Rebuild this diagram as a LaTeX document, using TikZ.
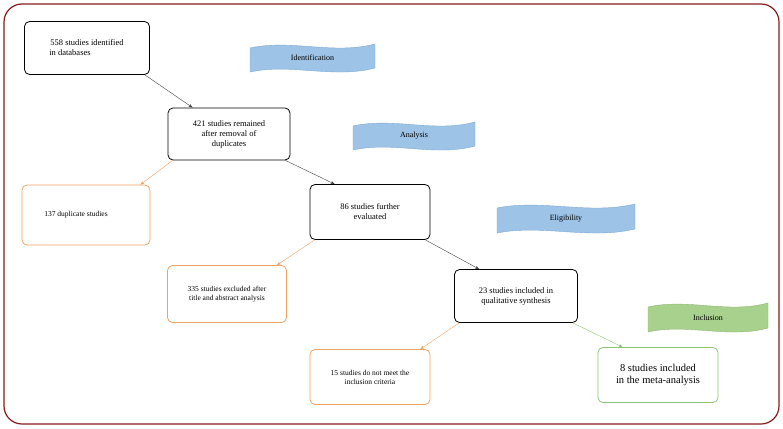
\documentclass[tikz,border=0pt]{standalone}
\usepackage{fontspec}
\setmainfont{Liberation Serif}
\usetikzlibrary{arrows.meta}
\definecolor{frame}{HTML}{8B1A1A}
\definecolor{obox}{HTML}{F0A060}
\definecolor{gbox}{HTML}{8CC474}
\definecolor{bflag}{HTML}{9DC3E6}
\definecolor{bflagd}{HTML}{7FA9D3}
\definecolor{gflag}{HTML}{A9D18E}
\definecolor{gflagd}{HTML}{8DB872}
\tikzset{
 box/.style={draw=black,thick,rounded corners=5pt,align=center,font=\fontsize{8.5}{10}\selectfont,inner sep=2pt},
 obx/.style={box,draw=obox,thick},
 gbx/.style={box,draw=gbox,thick},
 arr/.style={-{Stealth[length=4pt]},draw=black!75},
 oarr/.style={arr,draw=obox},
 garr/.style={arr,draw=gbox},
}
\newcommand{\myflag}[7]{% name x y w h fill draw text
 \fill[#6,draw=#7] (#2,#3+2) .. controls (#2+#4/3,#3-7) and (#2+2*#4/3,#3+9) .. (#2+#4,#3-2)
   -- (#2+#4,#3+#5-2) .. controls (#2+2*#4/3,#3+#5+9) and (#2+#4/3,#3+#5-7) .. (#2,#3+#5+2) -- cycle;
 \node[font=\fontsize{8}{9}\selectfont] (#1) at (#2+#4/2,#3+#5/2) {#1};
}
\begin{document}
\begin{tikzpicture}[x=1pt,y=-1pt]
\useasboundingbox (0,0) rectangle (783,428);
\draw[frame,line width=1.2pt,rounded corners=18pt] (4,4) rectangle (779,424);
\myflag{Identification}{250}{46}{125}{24}{bflag}{bflagd}
\myflag{Analysis}{353}{124}{122}{24}{bflag}{bflagd}
\myflag{Eligibility}{497}{206}{138}{25}{bflag}{bflagd}
\myflag{Inclusion}{648}{305}{120}{25}{gflag}{gflagd}
\node[box,minimum width=125pt,minimum height=53pt] (b1) at (87,48) {558 studies identified\\in databases\hspace*{34pt}};
\node[box,minimum width=122pt,minimum height=52pt] (b2) at (229,134) {421 studies remained\\after removal of\\duplicates};
\node[obx,minimum width=128pt,minimum height=60pt,font=\fontsize{7.5}{9}\selectfont] (b3) at (86,215) {137 duplicate studies\hspace*{20pt}};
\node[box,minimum width=120pt,minimum height=55pt] (b4) at (370,212) {86 studies further\\evaluated};
\node[obx,minimum width=119pt,minimum height=57pt,font=\fontsize{7.5}{9}\selectfont] (b5) at (227,294) {335 studies excluded after\\title and abstract analysis};
\node[box,minimum width=123pt,minimum height=53pt] (b6) at (516,296) {23 studies included in\\qualitative synthesis};
\node[obx,minimum width=120pt,minimum height=55pt,font=\fontsize{7.5}{9}\selectfont] (b7) at (370,377) {15 studies do not meet the\\inclusion criteria};
\node[gbx,minimum width=120pt,minimum height=55pt,font=\fontsize{10.5}{12.5}\selectfont] (b8) at (658,375) {8 studies included\\in the meta-analysis};
\draw[arr] ([xshift=-5pt]b1.south east) -- ([xshift=25pt]b2.north west);
\draw[oarr] ([xshift=5pt]b2.south west) -- ([xshift=-10pt]b3.north east);
\draw[arr] ([xshift=-5pt]b2.south east) -- ([xshift=25pt]b4.north west);
\draw[oarr] ([xshift=5pt]b4.south west) -- ([xshift=-10pt]b5.north east);
\draw[arr] ([xshift=-5pt]b4.south east) -- ([xshift=25pt]b6.north west);
\draw[oarr] ([xshift=5pt]b6.south west) -- ([xshift=-10pt]b7.north east);
\draw[garr] ([xshift=-5pt]b6.south east) -- ([xshift=25pt]b8.north west);
\end{tikzpicture}
\end{document}
